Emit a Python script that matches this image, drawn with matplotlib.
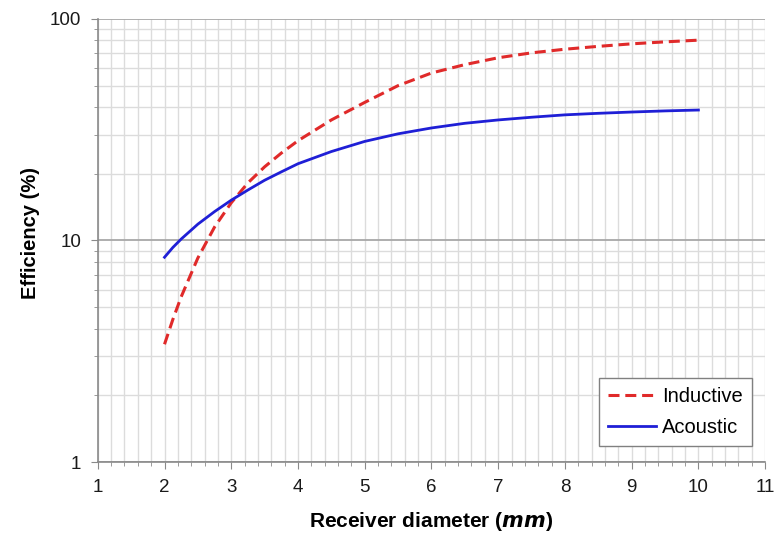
import numpy as np
import matplotlib.pyplot as plt
from matplotlib.ticker import MultipleLocator, LogLocator, FixedFormatter, FixedLocator, NullFormatter

plt.rcParams['font.family'] = ['Liberation Sans', 'DejaVu Sans']

diameter = [2, 2.125, 2.25, 2.5, 2.75, 3, 3.25, 3.5, 3.75, 4, 4.5, 5, 5.5, 6,
            6.5, 7, 7.5, 8, 8.5, 9, 9.5, 10]
inductive = [3.4, 4.4, 5.57, 8.34, 11.5, 14.8, 18.2, 21.5, 24.8, 28.2, 35.0, 42.0,
             50.0, 57.0, 62.2, 66.8, 70.3, 73.0, 75.2, 77.2, 78.8, 80.2]
acoustic = [8.4, 9.3, 10.15, 11.85, 13.5, 15.2, 16.9, 18.7, 20.4, 22.2, 25.2, 28.0,
            30.3, 32.2, 33.8, 35.0, 36.0, 36.9, 37.5, 38.0, 38.45, 38.8]

fig = plt.figure(figsize=(7.76, 5.41), dpi=100)
ax = fig.add_axes([0.126, 0.146, 0.86, 0.819])

ax.plot(diameter, inductive, color='#e02a2a', lw=2.2, ls=(0, (3.6, 1.9)), label='Inductive')
ax.plot(diameter, acoustic, color='#1f1fd6', lw=2.0, label='Acoustic')

ax.set_yscale('log')
ax.set_xlim(1, 11)
ax.set_ylim(1, 100)

ax.xaxis.set_major_locator(MultipleLocator(1))
ax.xaxis.set_minor_locator(MultipleLocator(0.2))
ax.yaxis.set_major_locator(FixedLocator([1, 10, 100]))
ax.yaxis.set_major_formatter(FixedFormatter(['1', '10', '100']))
ax.yaxis.set_minor_locator(LogLocator(base=10, subs=np.arange(2, 10)))
ax.yaxis.set_minor_formatter(NullFormatter())

ax.grid(which='minor', axis='both', color='#dcdcdc', lw=1.0)
ax.grid(which='major', axis='x', color='#dcdcdc', lw=1.0)
ax.grid(which='major', axis='y', color='#a8a8a8', lw=1.3)
ax.set_axisbelow(True)

for side in ['top', 'right']:
    ax.spines[side].set_visible(False)
for side in ['left', 'bottom']:
    ax.spines[side].set_color('#8a8a8a')
    ax.spines[side].set_linewidth(1.2)

ax.tick_params(which='major', length=5, color='#8a8a8a', labelsize=13.5, pad=7,
               labelcolor='#1a1a1a')
ax.tick_params(which='minor', length=3, color='#8a8a8a')

ax.set_xlabel('Receiver diameter ($\\bfit{mm}$)', fontsize=15, fontweight='bold', labelpad=10)
ax.set_ylabel('Efficiency (%)', fontsize=14.5, fontweight='bold')
ax.yaxis.set_label_coords(-0.087, 0.517)

leg = ax.legend(loc='lower right', bbox_to_anchor=(0.980, 0.036), fontsize=14.5,
                fancybox=False, framealpha=1, edgecolor='#808080', borderaxespad=0,
                handlelength=2.4, borderpad=0.45, labelspacing=0.6, handletextpad=0.3)
leg.get_frame().set_linewidth(1.0)

fig.savefig('out.png', dpi=100)
